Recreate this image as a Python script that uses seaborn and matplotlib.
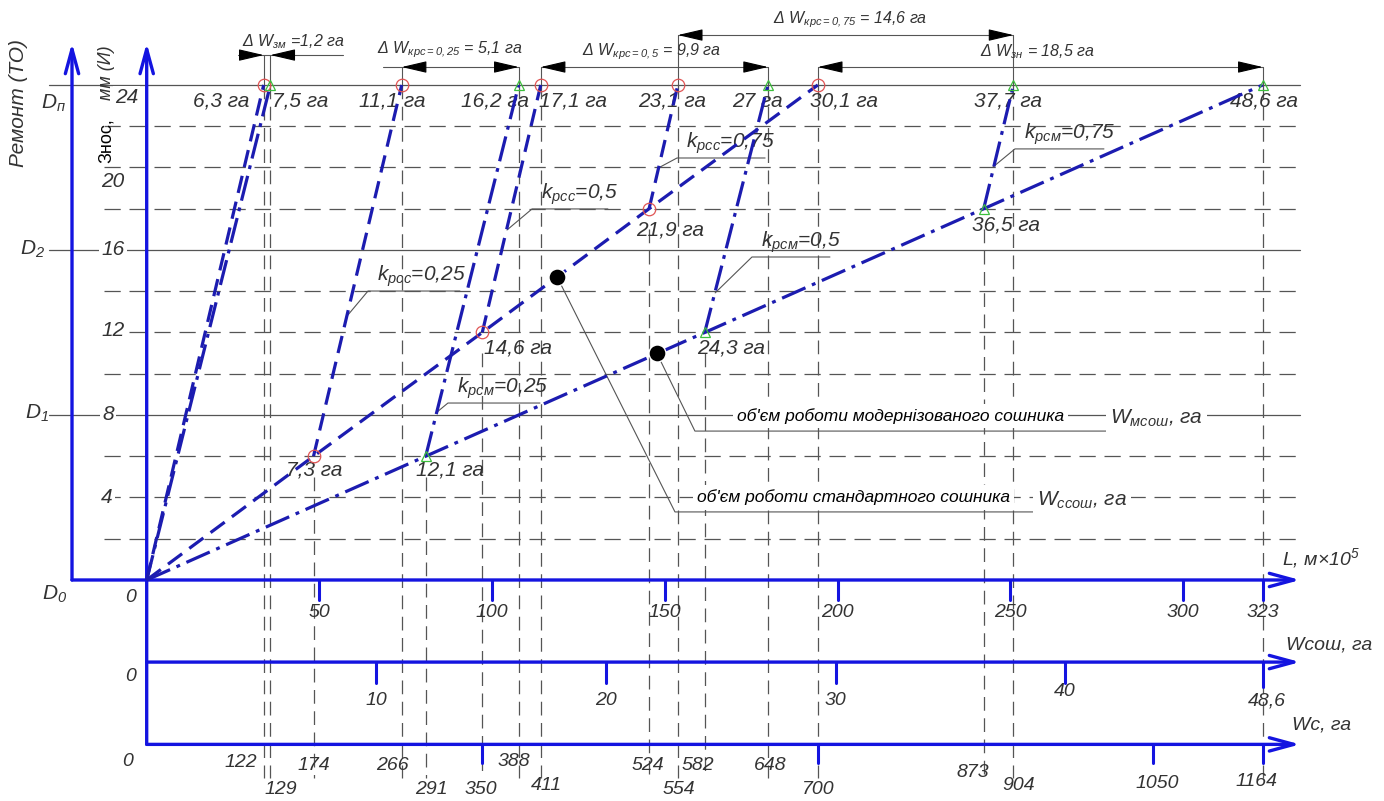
import matplotlib
matplotlib.use("Agg")
import matplotlib.pyplot as plt
import seaborn as sns

# wear (mm) levels where the coulter is restored / replaced
WEAR_LEVELS = [0, 6, 12, 18, 24]
# seeding volume on the Wc scale (ha) for each wear level
STD_WC = [0, 174, 350, 524, 700]        # standard coulter
MOD_WC = [0, 291, 582, 873, 1164]       # modernised coulter
# restored branches: start on base line, end at 24 mm
STD_BRANCH_END = [122, 266, 411, 554]
MOD_BRANCH_END = [129, 388, 648, 904]

STD_TOP_LABELS = ["6,3 га", "11,1 га", "17,1 га", "23,1 га", "30,1 га"]
MOD_TOP_LABELS = ["7,5 га", "16,2 га", "27 га", "37,7 га", "48,6 га"]
STD_MID_LABELS = ["7,3 га", "14,6 га", "21,9 га"]
MOD_MID_LABELS = ["12,1 га", "24,3 га", "36,5 га"]
K_VALUES = ["0,25", "0,5", "0,75"]

DOT_WC = [428, 532]
DOT_WEAR = [14.7, 11.0]

L_TICKS = [50, 100, 150, 200, 250, 300, 323]
WSOSH_TICKS = [10, 20, 30, 40, 48.6]
WC_TICKS = [350, 700, 1050, 1164]
WC_GUIDES = [122, 129, 174, 266, 291, 350, 388, 411, 524, 554, 582, 648, 700, 873, 904, 1164]
WEAR_TICKS = [4, 8, 12, 16, 20, 24]
D_LEVELS = [0, 8, 16, 24]
D_NAMES = ["0", "1", "2", "п"]

DIM_LABELS = ["зм", "крс=0,25", "крс=0,5", "крс=0,75", "зн"]
DIM_VALUES = [" =1,2 га", " = 5,1 га", " = 9,9 га", " = 14,6 га", " = 18,5 га"]
DIM_FROM = [122, 266, 411, 554, 700]
DIM_TO = [129, 388, 648, 904, 1164]

L_MAX, WSOSH_MAX, WC_MAX = 323, 48.6, 1164

AXIS = "#1414e0"
CURVE = "#1c1cb0"
GRID = "#555555"
TXT = "#333333"
DASHED = (0, (5.5, 2.8))
DASHDOT = (0, (8, 2.2, 1.2, 2.2))

sns.set_style("white")
plt.rcParams["font.family"] = ["Liberation Sans", "DejaVu Sans"]
plt.rcParams["mathtext.fontset"] = "custom"
plt.rcParams["mathtext.rm"] = "Liberation Sans:italic"
plt.rcParams["mathtext.it"] = "Liberation Sans:italic"

fig = plt.figure(figsize=(13.84, 8.01), dpi=100)
ax = fig.add_axes([0, 0, 1, 1])
ax.set_xlim(-153.0, 1290.5)
ax.set_ylim(-10.715, 28.12)
ax.axis("off")

gost = dict(style="italic", color=TXT)
l_to_wc = WC_MAX / L_MAX
w_to_wc = WC_MAX / WSOSH_MAX
x_end = 1203
y_wsosh, y_wc = -3.98, -7.97

# ---- grid: dashed wear levels and solid D levels ----
for w in [2, 4, 6, 10, 12, 14, 18, 20, 22]:
    ax.plot([-45, x_end], [w, w], color=GRID, lw=0.9, ls=(0, (13, 7)), zorder=1)
for lvl in D_LEVELS[1:]:
    ax.plot([-102, x_end], [lvl, lvl], color=GRID, lw=0.9, zorder=1)

# ---- vertical guides from the points down to the Wc scale ----
top_pts = STD_BRANCH_END + [STD_WC[-1]] + MOD_BRANCH_END + [MOD_WC[-1]]
mid_pts = dict(zip(STD_WC[1:4] + MOD_WC[1:4], WEAR_LEVELS[1:4] * 2))
dim_level = {}
for i, (a, b) in enumerate(zip(DIM_FROM, DIM_TO)):
    lvl = [25.45, 24.87, 24.87, 26.42, 24.87][i]
    dim_level.setdefault(a, lvl)
    dim_level.setdefault(b, lvl)
for g in WC_GUIDES:
    if g in top_pts:
        ax.plot([g, g], [dim_level[g], 24], color=GRID, lw=0.8, zorder=1)
        top = 24
    else:
        top = mid_pts[g] - 1.0
    ax.plot([g, g], [top, -9.6], color=GRID, lw=0.9, ls=(0, (11, 6)), zorder=1)

# ---- main blue axes ----
def arrow_axis(x0, y0, x1, y1):
    ax.annotate("", xy=(x1, y1), xytext=(x0, y0),
                arrowprops=dict(arrowstyle="->,head_length=1.1,head_width=0.3",
                                mutation_scale=16, color=AXIS, lw=2.4,
                                shrinkA=0, shrinkB=0), zorder=4)

arrow_axis(-77.9, 0, -77.9, 26.04)
arrow_axis(0, y_wc, 0, 26.04)
arrow_axis(-77.9, 0, x_end, 0)
arrow_axis(0, y_wsosh, x_end, y_wsosh)
arrow_axis(0, y_wc, x_end, y_wc)

for t in L_TICKS:
    ax.plot([t * l_to_wc] * 2, [0, -0.95], color=AXIS, lw=2.2, zorder=4)
    ax.text(t * l_to_wc, -1.6, str(t), ha="center", va="center", fontsize=14, **gost)
for t in WSOSH_TICKS:
    end = -5.2 if t == WSOSH_MAX else -5.0
    ax.plot([t * w_to_wc] * 2, [y_wsosh, end], color=AXIS, lw=2.2, zorder=4)
    lab = f"{t:g}".replace(".", ",")
    ax.text(t * w_to_wc + (4 if t == WSOSH_MAX else 0), -5.85 if t != 40 else -5.4,
            lab, ha="center", va="center", fontsize=14, **gost)
for t in WC_TICKS:
    ax.plot([t, t], [y_wc, -8.85], color=AXIS, lw=2.2, zorder=4)

wc_label_pos = {122: (98, -8.87), 129: (140, -10.18), 174: (174, -8.97),
                266: (256, -8.97), 291: (297, -10.18), 350: (349, -10.18),
                388: (383, -8.82), 411: (417, -9.94), 524: (523, -8.97),
                554: (555, -10.18), 582: (575, -8.97), 648: (650, -8.97),
                700: (700, -10.18), 873: (862, -9.35), 904: (909, -9.94),
                1050: (1054, -9.85), 1164: (1157, -9.75)}
for v, (px, py) in wc_label_pos.items():
    ax.text(px, py, str(v), ha="center", va="center", fontsize=14, **gost)

# axis zeros and titles
for yy in [-0.87, -4.7]:
    ax.text(-16.4, yy, "0", ha="center", va="center", fontsize=14, **gost)
ax.text(-19.5, -8.8, "0", ha="center", va="center", fontsize=14, **gost)
ax.text(1184, 1.07, "L, м×10$^5$", ha="left", va="center", fontsize=14, **gost)
ax.text(1188, -3.15, "Wсош, га", ha="left", va="center", fontsize=14, **gost)
ax.text(1195, -7.03, "Wс, га", ha="left", va="center", fontsize=14, **gost)

# wear scale labels
wear_lab_pos = {24: (-20.8, 23.37), 20: (-35.1, 19.3), 16: (-35.1, 16.0),
                12: (-35.1, 12.12), 8: (-40.4, 8.0), 4: (-41.4, 4.02)}
for w in WEAR_TICKS:
    px, py = wear_lab_pos[w]
    ax.text(px, py, str(w), ha="center", va="center", fontsize=15,
            bbox=dict(fc="white", ec="none", pad=1.5), zorder=3, **gost)
d_lab_pos = {0: (-95.6, -0.7), 8: (-114.3, 8.1), 16: (-118.6, 16.05), 24: (-97.7, 23.13)}
for lvl, name in zip(D_LEVELS, D_NAMES):
    px, py = d_lab_pos[lvl]
    ax.text(px, py, "D$_{\\mathregular{" + name + "}}$", ha="center", va="center",
            fontsize=15, **gost)

ax.text(-134.2, 23.13, "Ремонт (ТО)", rotation=90, ha="center", va="center",
        fontsize=15, **gost)
ax.text(-42.4, 24.6, "мм (И)", rotation=90, ha="center", va="center",
        fontsize=13, **gost)
ax.text(-42.4, 21.3, "Знос,", rotation=90, ha="center", va="center",
        fontsize=13, color="black")

# ---- wear curves ----
sns.lineplot(x=STD_WC, y=WEAR_LEVELS, ax=ax, color=CURVE, lw=2.3,
             linestyle=DASHED, sort=False, estimator=None, zorder=5)
sns.lineplot(x=MOD_WC, y=WEAR_LEVELS, ax=ax, color=CURVE, lw=2.3,
             linestyle=DASHDOT, sort=False, estimator=None, zorder=5)
for x0, y0, x1 in zip(STD_WC[:4], WEAR_LEVELS[:4], STD_BRANCH_END):
    sns.lineplot(x=[x0, x1], y=[y0, 24], ax=ax, color=CURVE, lw=2.3,
                 linestyle=DASHED, sort=False, estimator=None, zorder=5)
for x0, y0, x1 in zip(MOD_WC[:4], WEAR_LEVELS[:4], MOD_BRANCH_END):
    sns.lineplot(x=[x0, x1], y=[y0, 24], ax=ax, color=CURVE, lw=2.3,
                 linestyle=DASHDOT, sort=False, estimator=None, zorder=5)

# point markers
std_top = STD_BRANCH_END + [STD_WC[-1]]
mod_top = MOD_BRANCH_END + [MOD_WC[-1]]
ax.plot(std_top, [24] * 5, "o", ms=9, mfc="none", mec="#e05555", mew=0.9, zorder=6)
ax.plot(STD_WC[1:4], WEAR_LEVELS[1:4], "o", ms=9, mfc="none", mec="#e05555", mew=0.9, zorder=6)
ax.plot(mod_top, [24] * 5, "^", ms=7, mfc="none", mec="#3cbf3c", mew=0.9, zorder=6)
ax.plot(MOD_WC[1:4], WEAR_LEVELS[1:4], "^", ms=7, mfc="none", mec="#3cbf3c", mew=0.9, zorder=6)

sns.scatterplot(x=DOT_WC, y=DOT_WEAR, ax=ax, color="black", s=150, zorder=7)

# value labels
std_top_pos = [77.5, 255.8, 444.6, 547.9, 727.4]
mod_top_pos = [160, 363.3, 637.5, 898.3, 1165.3]
for lab, px in zip(STD_TOP_LABELS + MOD_TOP_LABELS, std_top_pos + mod_top_pos):
    ax.text(px, 23.2, lab, ha="center", va="center", fontsize=15, **gost)
mid_pos = [(174.5, 5.33), (387.3, 11.25), (545.8, 16.97),
           (316.3, 5.33), (609.4, 11.25), (896.2, 17.21)]
for lab, (px, py) in zip(STD_MID_LABELS + MOD_MID_LABELS, mid_pos):
    ax.text(px, py, lab, ha="center", va="center", fontsize=15, **gost)

# k-factor callouts: (leader start, leader end, underline end)
k_std = [((209.9, 12.85), (230.8, 14.01), 326.7),
         ((375.8, 16.97), (401.9, 17.99), 481.0),
         ((535.4, 20.02), (553.1, 20.46), 645.0)]
k_mod = [((301.7, 8.1), (314.2, 8.58), 410.2),
         ((592.9, 13.92), (631.3, 15.66), 712.6),
         ((882.6, 20.02), (905.6, 20.9), 998.4)]
for sub, spec in [("рсс", k_std), ("рсм", k_mod)]:
    for k, ((xa, ya), (xb, yb), xe) in zip(K_VALUES, spec):
        ax.plot([xa, xb, xe], [ya, yb, yb], color=GRID, lw=0.8, zorder=4)
        ax.text(xb + 9, yb + 0.1, "k$_{\\mathregular{" + sub + "}}$=" + k,
                ha="left", va="bottom", fontsize=15, **gost)

# dimension lines at the top
for i, (a, b) in enumerate(zip(DIM_FROM, DIM_TO)):
    lvl = dim_level[a]
    head = dict(arrowstyle="-|>,head_length=1.2,head_width=0.28", mutation_scale=13,
                color="black", lw=0.8, shrinkA=0, shrinkB=0)
    if i == 0:
        ax.plot([95.4, 204.8], [lvl, lvl], color=GRID, lw=0.8)
        ax.annotate("", xy=(a, lvl), xytext=(a - 22, lvl), arrowprops=head)
        ax.annotate("", xy=(b, lvl), xytext=(b + 22, lvl), arrowprops=head)
    else:
        x_start = 246.5 if i == 1 else a
        ax.plot([x_start, b], [lvl, lvl], color=GRID, lw=0.8)
        ax.annotate("", xy=(a, lvl), xytext=(a + 22, lvl), arrowprops=head)
        ax.annotate("", xy=(b, lvl), xytext=(b - 22, lvl), arrowprops=head)
dim_text_pos = [(152.7, 26.08), (316.3, 25.7), (527.0, 25.6), (733.5, 27.15), (928.6, 25.6)]
for lab, val, (px, py) in zip(DIM_LABELS, DIM_VALUES, dim_text_pos):
    ax.text(px, py, "Δ W$_{\\mathregular{" + lab + "}}$" + val, ha="center",
            va="center", fontsize=11.5, **gost)

# callouts for the two black points
ax.plot([DOT_WC[0], 551.0, 1012.0], [DOT_WEAR[0], 3.30, 3.30], color=GRID, lw=0.8, zorder=4)
ax.plot([DOT_WC[1], 571.8, 1090.2], [DOT_WEAR[1], 7.22, 7.22], color=GRID, lw=0.8, zorder=4)
white = dict(fc="white", ec="none", pad=3)
ax.text(615.7, 7.95, "об'єм роботи модернізованого сошника", ha="left", va="center",
        fontsize=12.5, style="italic", color="black", bbox=white, zorder=5)
ax.text(574.0, 4.0, "об'єм роботи стандартного сошника", ha="left", va="center",
        fontsize=12.5, style="italic", color="black", bbox=white, zorder=5)
ax.text(1004.7, 7.85, "W$_{\\mathregular{мсош}}$, га", ha="left", va="center",
        fontsize=15, bbox=white, zorder=5, **gost)
ax.text(928.7, 3.88, "W$_{\\mathregular{ссош}}$, га", ha="left", va="center",
        fontsize=15, bbox=white, zorder=5, **gost)

fig.savefig("out.png", dpi=100)
